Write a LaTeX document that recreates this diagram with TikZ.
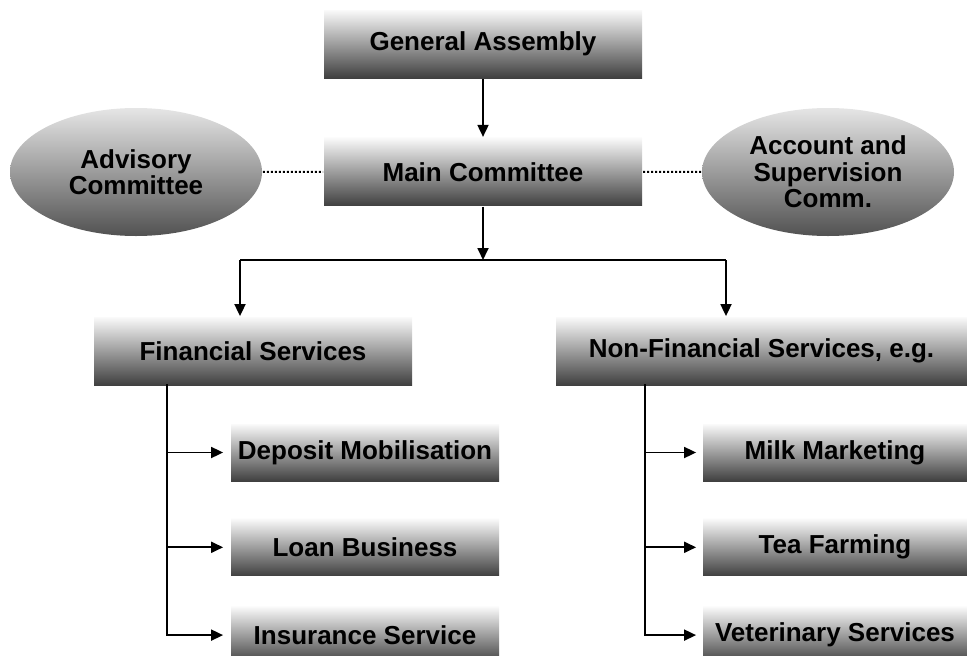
\documentclass[tikz,border=0pt]{standalone}
\usepackage{fontspec}
\setmainfont{Liberation Sans}
\usetikzlibrary{shapes.geometric,arrows.meta,positioning}

\begin{document}
\begin{tikzpicture}[x=1pt,y=1pt,>={Triangle[length=12pt,width=11pt]},line width=1.8pt,
  box/.style={rectangle, top color=black!2, bottom color=black!75, minimum width=318pt,
    minimum height=68pt, inner sep=0pt, font=\fontsize{26}{25}\selectfont\bfseries},
  subbox/.style={box, minimum width=268pt, minimum height=57pt},
  comm/.style={ellipse, top color=black!10, bottom color=black!68, minimum width=252pt,
    minimum height=128pt, inner sep=0pt, align=center, font=\fontsize{26}{26.5}\selectfont\bfseries}]

  \useasboundingbox (0,0) rectangle (967,-656);

  \node[box] (ga) at (483,-44) {General Assembly};
  \node[box] (mc) [below=58pt of ga] {Main Committee};
  \node[comm] (adv) at (136,-172) {Advisory\\Committee};
  \node[comm] (acc) at (828,-172) {Account and\\Supervision\\Comm.};

  \node[box] (fin) at (253,-351) {Financial Services};
  \node[box, minimum width=411pt] (nonfin) at (761.5,-351) {Non-Financial Services, e.g.};

  \node[subbox] (dep) at (365,-452.5) {Deposit Mobilisation};
  \node[subbox] (loan) [below=36pt of dep] {Loan Business};
  \node[subbox] (ins) [below=29pt of loan] {Insurance Service};

  \node[subbox, minimum width=264pt] (milk) at (835,-452.5) {Milk Marketing};
  \node[subbox, minimum width=264pt] (tea) [below=36pt of milk] {Tea Farming};
  \node[subbox, minimum width=264pt] (vet) [below=29pt of tea] {Veterinary Services};

  \coordinate (split) at (483,-260);
  \coordinate (fsplit) at (240,-260);
  \coordinate (nsplit) at (726,-260);
  \coordinate (ftrunk) at (167,-384);
  \coordinate (ntrunk) at (645,-384);

  % top of the chart
  \draw[->] (ga) -- (mc);
  \draw[dotted, line width=2pt] (adv) -- (mc);
  \draw[dotted, line width=2pt] (acc) -- (mc);
  \draw[->] (mc) -- (split);
  \draw (fsplit) -- (nsplit);
  \draw[->] (fsplit) -- (fsplit |- fin.north);
  \draw[->] (nsplit) -- (nsplit |- nonfin.north);

  % branches
  \draw[->, shorten >=7pt] (ftrunk) |- (ins.west);
  \draw[->, shorten >=7pt] (ftrunk |- dep) -- (dep.west);
  \draw[->, shorten >=7pt] (ftrunk |- loan) -- (loan.west);

  \draw[->, shorten >=6pt] (ntrunk) |- (vet.west);
  \draw[->, shorten >=6pt] (ntrunk |- milk) -- (milk.west);
  \draw[->, shorten >=6pt] (ntrunk |- tea) -- (tea.west);
\end{tikzpicture}
\end{document}
